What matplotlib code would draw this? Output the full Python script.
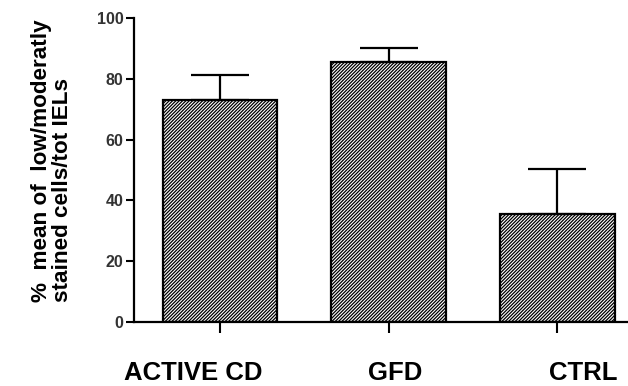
import matplotlib
matplotlib.use("Agg")
import matplotlib.pyplot as plt
from matplotlib.transforms import ScaledTranslation

categories = ["ACTIVE CD", "GFD", "CTRL"]
means = [73.1, 85.6, 35.6]
errors = [8.2, 4.4, 14.6]
yticks = [0, 20, 40, 60, 80, 100]
label_shift_pt = [-19, 4.7, 19]

plt.rcParams['font.family'] = ['Liberation Sans', 'DejaVu Sans']
plt.rcParams['hatch.linewidth'] = 0.9
plt.rcParams['hatch.color'] = '#333333'

fig = plt.figure(figsize=(6.28, 3.86), dpi=100)
ax = fig.add_axes([134/628, 1-322/386, 1-134/628, (322-18)/386])

x = list(range(len(categories)))
ax.bar(x, means, width=0.68, color='white', edgecolor='black', linewidth=1.6,
       hatch='//////////', zorder=2)
ax.errorbar(x, means, yerr=[[0]*len(errors), errors], fmt='none', ecolor='black',
            elinewidth=1.6, capsize=21, capthick=1.6, zorder=3)

ax.set_xlim(-0.51, 2.42)
ax.set_ylim(0, 100)
ax.set_yticks(yticks)
ax.set_yticklabels([str(v) for v in yticks], fontsize=11.5, fontweight='bold', color='#333333')
ax.set_xticks(x)
ax.set_xticklabels(categories, fontsize=18.5, fontweight='bold')
ax.tick_params(axis='x', length=8, width=1.5, pad=20)
ax.tick_params(axis='y', length=6, width=1.5, pad=1.5)
for lab, dx in zip(ax.get_xticklabels(), label_shift_pt):
    lab.set_transform(lab.get_transform() + ScaledTranslation(dx/72, 0, fig.dpi_scale_trans))
for s in ['top', 'right']:
    ax.spines[s].set_visible(False)
for s in ['left', 'bottom']:
    ax.spines[s].set_linewidth(1.6)

fig.text(52/628, 1-302/386, "%  mean of  low/moderatly\nstained cells/tot IELs",
         rotation=90, fontsize=16.2, fontweight='bold', ha='center', va='bottom',
         multialignment='left', linespacing=1.05)

fig.savefig("out.png", dpi=100)
